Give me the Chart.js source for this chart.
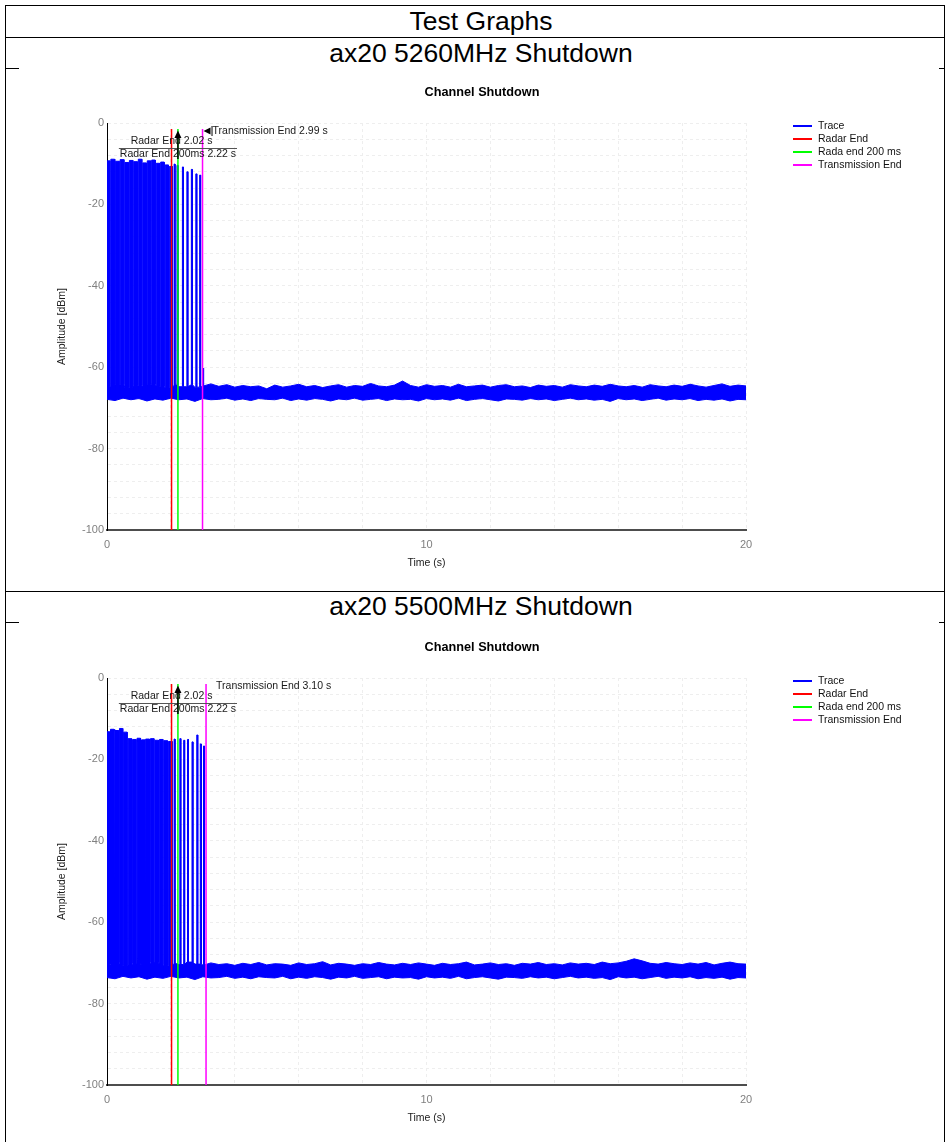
<!DOCTYPE html>
<html lang="en">
<head>
<meta charset="UTF-8">
<title>Test Graphs</title>
<script src="https://cdn.jsdelivr.net/npm/chart.js"></script>
<style>
    body { margin: 0; background: #fff; font-family: "Liberation Sans", Arial, sans-serif; }
    .page { position: relative; width: 945px; height: 1142px; overflow: hidden; }
    .frame { position: absolute; left: 5px; top: 5px; width: 938px; height: 1200px; border: 1px solid #000; border-bottom: none; }
    .hline { position: absolute; left: 5px; width: 940px; border-top: 1px solid #000; }
    .tick { position: absolute; border-top: 1px solid #000; }
    .head { position: absolute; left: 0; width: 962px; text-align: center; font-size: 26.5px; line-height: 30px; color: #000; }
    canvas { position: absolute; left: 20px; }
</style>
</head>
<body>
<div class="page">
    <div class="frame"></div>
    <div class="head" style="top:6px">Test Graphs</div>
    <div class="hline" style="top:37px"></div>
    <div class="head" style="top:38px">ax20 5260MHz Shutdown</div>
    <div class="tick" style="top:68px; left:5px; width:14px"></div>
    <div class="tick" style="top:68px; left:939px; width:6px"></div>
    <canvas id="chart1" width="924" height="515" style="top:70px"></canvas>

    <div class="hline" style="top:591px"></div>
    <div class="head" style="top:591px">ax20 5500MHz Shutdown</div>
    <div class="tick" style="top:622px; left:5px; width:14px"></div>
    <div class="tick" style="top:622px; left:939px; width:6px"></div>
    <canvas id="chart2" width="924" height="515" style="top:625px"></canvas>
</div>

<script>
// ---- common values ----
const legendNames = ['Trace', 'Radar End', 'Rada end 200 ms', 'Transmission End'];
const radarEnd = 2.02;
const radarEnd200 = 2.22;
const markerTop = -1.5;

// noise floor sample times (s), one every 0.25 s
const noiseTimes = [
    0, 0.25, 0.5, 0.75, 1, 1.25, 1.5, 1.75, 2, 2.25, 2.5, 2.75, 3, 3.25, 3.5, 3.75,
    4, 4.25, 4.5, 4.75, 5, 5.25, 5.5, 5.75, 6, 6.25, 6.5, 6.75, 7, 7.25, 7.5, 7.75,
    8, 8.25, 8.5, 8.75, 9, 9.25, 9.5, 9.75, 10, 10.25, 10.5, 10.75, 11, 11.25, 11.5, 11.75,
    12, 12.25, 12.5, 12.75, 13, 13.25, 13.5, 13.75, 14, 14.25, 14.5, 14.75, 15, 15.25, 15.5, 15.75,
    16, 16.25, 16.5, 16.75, 17, 17.25, 17.5, 17.75, 18, 18.25, 18.5, 18.75, 19, 19.25, 19.5, 19.75, 20
];

// ---- chart 1 : 5260 MHz ----
const txEnd1 = 2.99;
const noiseTop1 = [
    -64.8, -64.3, -65.0, -64.5, -64.9, -64.2, -64.7, -65.1,
    -64.4, -64.8, -64.3, -64.9, -64.6, -64.1, -64.7, -64.3,
    -64.9, -64.5, -64.8, -64.6, -65.3, -64.4, -64.9, -64.6,
    -64.2, -64.8, -64.5, -65.0, -64.6, -64.3, -64.9, -64.5,
    -64.7, -64.0, -64.6, -64.8, -64.4, -63.4, -64.5, -64.9,
    -64.3, -64.7, -64.5, -64.9, -64.2, -64.8, -64.6, -64.4,
    -64.9, -64.5, -64.3, -64.8, -64.6, -65.0, -64.4, -64.7,
    -64.5, -64.9, -64.3, -64.6, -64.8, -64.4, -64.7, -64.2,
    -64.6, -64.8, -64.5, -64.9, -64.3, -64.6, -64.8, -64.4,
    -64.7, -64.2, -64.6, -64.9, -64.5, -64.1, -64.7, -64.4,
    -64.6
];
const noiseBottom1 = [
    -67.9, -68.2, -67.6, -68.0, -67.7, -68.3, -67.8, -68.1,
    -67.6, -68.0, -67.8, -68.4, -67.7, -68.0, -67.9, -67.6,
    -68.1, -67.8, -68.2, -67.7, -67.9, -68.0, -67.6, -68.2,
    -67.8, -68.1, -67.7, -67.9, -68.3, -67.8, -68.0, -67.6,
    -68.1, -67.9, -67.7, -68.2, -67.8, -68.0, -67.9, -68.3,
    -67.7, -68.0, -67.8, -68.1, -67.6, -68.2, -67.9, -67.7,
    -68.0, -68.3, -67.8, -67.9, -68.1, -67.7, -68.0, -67.8,
    -68.2, -67.9, -67.6, -68.0, -67.8, -68.1, -67.9, -68.4,
    -67.7, -68.0, -67.8, -68.2, -67.9, -67.6, -68.1, -67.8,
    -68.0, -67.7, -68.2, -67.9, -68.1, -67.8, -68.3, -67.9,
    -68.0
];
const burstStart1 = [0.00, 0.12, 0.27, 0.41, 0.56, 0.70, 0.84, 0.98, 1.12, 1.26, 1.40, 1.54, 1.68, 1.82, 1.95, 2.10, 2.19, 2.36, 2.50, 2.64, 2.78, 2.90, 3.01];
const burstEnd1 = [0.09, 0.24, 0.38, 0.53, 0.67, 0.81, 0.95, 1.09, 1.23, 1.37, 1.51, 1.65, 1.79, 1.92, 2.05, 2.13, 2.22, 2.39, 2.53, 2.67, 2.81, 2.93, 3.03];
const burstPeak1 = [-9.3, -8.9, -9.4, -9.0, -9.7, -9.2, -9.5, -8.9, -9.8, -9.3, -9.1, -9.9, -9.6, -10.3, -10.7, -10.1, -10.4, -10.8, -12.0, -11.4, -12.5, -12.8, -60.2];

// ---- chart 2 : 5500 MHz ----
const txEnd2 = 3.10;
const noiseTop2 = [
    -70.4, -70.0, -70.6, -70.2, -70.5, -69.9, -70.3, -70.7,
    -70.1, -70.4, -69.8, -70.3, -70.5, -70.0, -70.4, -70.2,
    -70.6, -70.1, -70.4, -69.9, -70.5, -70.2, -70.3, -70.6,
    -70.0, -70.4, -70.2, -69.7, -70.5, -70.1, -70.3, -70.6,
    -70.2, -70.4, -69.9, -70.3, -70.5, -70.1, -70.4, -70.0,
    -70.3, -70.6, -70.1, -70.4, -70.2, -69.8, -70.5, -70.3,
    -70.0, -70.4, -70.2, -70.6, -70.1, -70.3, -69.9, -70.4,
    -70.2, -70.5, -70.0, -70.3, -70.1, -70.4, -69.8, -70.2,
    -70.0, -69.6, -69.0, -69.5, -70.1, -70.3, -69.9, -70.2,
    -70.4, -70.0, -70.3, -69.9, -70.5, -70.1, -69.8, -70.2,
    -70.3
];
const noiseBottom2 = [
    -73.6, -73.9, -73.3, -73.7, -73.4, -74.0, -73.5, -73.8,
    -73.3, -73.7, -73.5, -74.1, -73.4, -73.7, -73.6, -73.3,
    -73.8, -73.5, -73.9, -73.4, -73.6, -73.7, -73.3, -73.9,
    -73.5, -73.8, -73.4, -73.6, -74.0, -73.5, -73.7, -73.3,
    -73.8, -73.6, -73.4, -73.9, -73.5, -73.7, -73.6, -74.0,
    -73.4, -73.7, -73.5, -73.8, -73.3, -73.9, -73.6, -73.4,
    -73.7, -74.0, -73.5, -73.6, -73.8, -73.4, -73.7, -73.5,
    -73.9, -73.6, -73.3, -73.7, -73.5, -73.8, -73.6, -74.1,
    -73.4, -73.7, -73.5, -73.9, -73.6, -73.3, -73.8, -73.5,
    -73.7, -73.4, -73.9, -73.6, -73.8, -73.5, -74.0, -73.6,
    -73.7
];
const burstStart2 = [0.00, 0.11, 0.25, 0.39, 0.52, 0.66, 0.80, 0.94, 1.08, 1.22, 1.36, 1.50, 1.64, 1.78, 1.92, 2.10, 2.28, 2.40, 2.52, 2.66, 2.81, 2.92, 3.02];
const burstEnd2 = [0.08, 0.22, 0.36, 0.49, 0.63, 0.77, 0.91, 1.05, 1.19, 1.33, 1.47, 1.61, 1.75, 1.89, 2.04, 2.13, 2.31, 2.43, 2.55, 2.69, 2.84, 2.95, 3.05];
const burstPeak2 = [-13.2, -12.6, -12.9, -12.4, -13.3, -14.9, -15.1, -14.8, -15.2, -15.0, -14.9, -15.3, -15.1, -15.4, -15.6, -15.0, -14.9, -15.3, -15.1, -15.7, -14.0, -16.2, -16.7];

const FONT = '"Liberation Sans", Arial, sans-serif';
Chart.defaults.font.family = FONT;

// upper edge of the trace: noise top with the bursts standing on it
function buildProfile(times, top, bStart, bEnd, bPeak) {
    const pts = [];
    let j = 0;
    let base = top[0];
    let lastX = -1;
    for (let i = 0; i < times.length; i++) {
        while (j < bStart.length && bStart[j] <= times[i]) {
            pts.push({ x: bStart[j], y: base }, { x: bStart[j], y: bPeak[j] },
                     { x: bEnd[j], y: bPeak[j] }, { x: bEnd[j], y: base });
            lastX = bEnd[j];
            j++;
        }
        if (times[i] > lastX) {
            pts.push({ x: times[i], y: top[i] });
            lastX = times[i];
        }
        base = top[i];
    }
    return pts;
}

function zipXY(xs, ys) {
    return xs.map((x, i) => ({ x: x, y: ys[i] }));
}

function markerLine(t) {
    return [{ x: t, y: markerTop }, { x: t, y: -100 }];
}

// title, legend and the marker notes
function notesPlugin(txEnd, txArrow) {
    return {
        id: 'notes',
        afterDraw(chart) {
            const ctx = chart.ctx;
            const area = chart.chartArea;
            const xs = chart.scales.x;
            const top = area.top;
            ctx.save();

            // chart title
            ctx.fillStyle = '#000';
            ctx.font = 'bold 12.7px ' + FONT;
            ctx.textAlign = 'center';
            ctx.textBaseline = 'middle';
            ctx.fillText('Channel Shutdown', chart.width / 2, 22);

            // legend
            ctx.font = '10.5px ' + FONT;
            ctx.textAlign = 'left';
            const legendDs = chart.data.datasets.filter(d => d.legendText);
            legendDs.forEach((d, i) => {
                const y = top + 3 + 13 * i;
                ctx.strokeStyle = d.borderColor;
                ctx.lineWidth = 2;
                ctx.beginPath();
                ctx.moveTo(area.right + 47, y);
                ctx.lineTo(area.right + 66, y);
                ctx.stroke();
                ctx.fillStyle = '#111';
                ctx.fillText(d.legendText, area.right + 72, y);
            });

            // marker notes
            const xr = xs.getPixelForValue(radarEnd);
            const xg = xs.getPixelForValue(radarEnd200);
            const xt = xs.getPixelForValue(txEnd);
            ctx.fillStyle = '#1a1a1a';
            ctx.textAlign = 'center';
            ctx.fillText('Radar End ' + radarEnd.toFixed(2) + ' s', xr, top + 18);
            const lbl2 = 'Radar End 200ms ' + radarEnd200.toFixed(2) + ' s';
            const w2 = ctx.measureText(lbl2).width;
            ctx.strokeStyle = '#555';
            ctx.lineWidth = 1;
            ctx.beginPath();
            ctx.moveTo(xg - w2 / 2 - 1, top + 25.5);
            ctx.lineTo(xg + w2 / 2 + 1, top + 25.5);
            ctx.stroke();
            ctx.fillText(lbl2, xg, top + 31.5);

            // black arrow on the 200 ms marker
            ctx.strokeStyle = '#000';
            ctx.lineWidth = 1.5;
            ctx.beginPath();
            ctx.moveTo(xg, top + 13);
            ctx.lineTo(xg, top + 36);
            ctx.stroke();
            ctx.fillStyle = '#000';
            ctx.beginPath();
            ctx.moveTo(xg, top + 7.5);
            ctx.lineTo(xg - 3.5, top + 15);
            ctx.lineTo(xg + 3.5, top + 15);
            ctx.closePath();
            ctx.fill();

            // transmission end note
            ctx.textAlign = 'left';
            ctx.fillStyle = '#1a1a1a';
            ctx.fillText('Transmission End ' + txEnd.toFixed(2) + ' s', xt + 10, top + 8);
            if (txArrow) {
                ctx.fillStyle = '#000';
                ctx.beginPath();
                ctx.moveTo(xt + 1, top + 8);
                ctx.lineTo(xt + 8, top + 4.5);
                ctx.lineTo(xt + 8, top + 11.5);
                ctx.closePath();
                ctx.fill();
                ctx.strokeStyle = '#000';
                ctx.lineWidth = 1;
                ctx.beginPath();
                ctx.moveTo(xt + 9.5, top + 3);
                ctx.lineTo(xt + 9.5, top + 13);
                ctx.stroke();
            }
            ctx.restore();
        }
    };
}

function makeChart(id, top, bottom, bStart, bEnd, bPeak, txEnd, txArrow) {
    const profile = buildProfile(noiseTimes, top, bStart, bEnd, bPeak);
    const floor = zipXY(noiseTimes, bottom);
    const lineBase = { pointRadius: 0, tension: 0, borderWidth: 1, fill: false };
    return new Chart(document.getElementById(id), {
        type: 'line',
        data: {
            datasets: [
                { ...lineBase, label: 'Trace', legendText: legendNames[0], data: profile,
                  borderColor: '#0000ff', backgroundColor: '#0000ff', fill: '+1', order: 2 },
                { ...lineBase, label: 'Trace floor', data: floor, borderColor: '#0000ff', order: 2 },
                { ...lineBase, label: 'Radar End', legendText: legendNames[1], data: markerLine(radarEnd),
                  borderColor: '#ff0000', borderWidth: 1.5, order: 0 },
                { ...lineBase, label: 'Rada end 200 ms', legendText: legendNames[2], data: markerLine(radarEnd200),
                  borderColor: '#00ff00', borderWidth: 1.5, order: 0 },
                { ...lineBase, label: 'Transmission End', legendText: legendNames[3], data: markerLine(txEnd),
                  borderColor: '#ff00ff', borderWidth: 1.5, order: 0 }
            ]
        },
        options: {
            responsive: false,
            animation: false,
            events: [],
            layout: { padding: { left: 30, right: 198, top: 53, bottom: 10 } },
            plugins: { legend: { display: false }, tooltip: { enabled: false }, title: { display: false } },
            scales: {
                x: {
                    type: 'linear', min: 0, max: 20,
                    afterFit: (s) => { s.height = 45; },
                    grid: { color: '#eeeeee', drawTicks: false },
                    border: { color: '#4d4d4d', width: 2, dash: [3, 3] },
                    ticks: {
                        stepSize: 2, autoSkip: false, maxRotation: 0, padding: 8,
                        color: '#808080', font: { size: 11 },
                        callback: (v) => (v % 10 === 0 ? String(v) : '')
                    },
                    title: { display: true, text: 'Time (s)', color: '#202020',
                             font: { size: 10.5 }, padding: { top: 0, bottom: 6 } }
                },
                y: {
                    min: -100, max: 0,
                    afterFit: (s) => { s.width = 57; },
                    grid: { color: '#eeeeee', drawTicks: false },
                    border: { color: '#000', width: 1, dash: [3, 3] },
                    ticks: {
                        stepSize: 4, autoSkip: false, padding: 3,
                        color: '#808080', font: { size: 11 },
                        callback: (v) => (v % 20 === 0 ? String(v) : '')
                    },
                    title: { display: true, text: 'Amplitude [dBm]', color: '#202020',
                             font: { size: 10.5 }, padding: { top: 6, bottom: 0 } }
                }
            }
        },
        plugins: [notesPlugin(txEnd, txArrow)]
    });
}

makeChart('chart1', noiseTop1, noiseBottom1, burstStart1, burstEnd1, burstPeak1, txEnd1, true);
makeChart('chart2', noiseTop2, noiseBottom2, burstStart2, burstEnd2, burstPeak2, txEnd2, false);
</script>
</body>
</html>
